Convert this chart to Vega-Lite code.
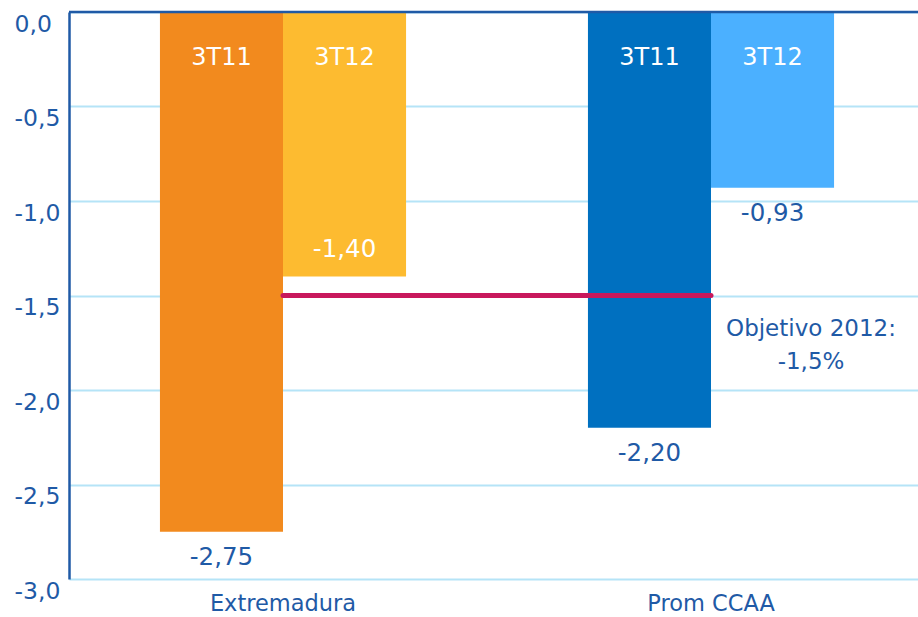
{
  "$schema": "https://vega.github.io/schema/vega-lite/v6.json",
  "width": 856,
  "height": 567,
  "autosize": "none",
  "padding": {"left": 69, "top": 12, "right": 0, "bottom": 38},
  "config": {
    "view": {"stroke": null},
    "font": "DejaVu Sans",
    "text": {"font": "DejaVu Sans"}
  },
  "datasets": {
    "bars": [
      {"region": "Extremadura", "periodo": "3T11", "valor": -2.75, "etiqueta": "-2,75"},
      {"region": "Extremadura", "periodo": "3T12", "valor": -1.40, "etiqueta": "-1,40"},
      {"region": "Prom CCAA", "periodo": "3T11", "valor": -2.20, "etiqueta": "-2,20"},
      {"region": "Prom CCAA", "periodo": "3T12", "valor": -0.93, "etiqueta": "-0,93"}
    ],
    "objetivo": [
      {"region": "Extremadura", "valor": -1.5},
      {"region": "Prom CCAA", "valor": -1.5}
    ],
    "nota": [
      {"region": "Prom CCAA", "valor": -1.5, "texto": "Objetivo 2012:\n-1,5%"}
    ],
    "cero": [{"valor": 0}]
  },
  "encoding": {
    "x": {
      "field": "region",
      "type": "nominal",
      "sort": ["Extremadura", "Prom CCAA"],
      "scale": {"paddingInner": 0.425, "paddingOuter": 0.2125},
      "axis": {
        "title": null,
        "domain": false,
        "ticks": false,
        "grid": false,
        "labelAngle": 0,
        "labelFont": "DejaVu Sans",
        "labelFontSize": 22.5,
        "labelColor": "#1F5AA6",
        "labelPadding": 13,
        "labelBaseline": "top"
      }
    },
    "y": {
      "field": "valor",
      "type": "quantitative",
      "scale": {"domain": [-3, 0], "nice": false, "zero": true},
      "axis": {
        "title": null,
        "values": [-3, -2.5, -2, -1.5, -1, -0.5, 0],
        "labelExpr": "(datum.value < 0 ? '-' : '') + replace(format(abs(datum.value), '.1f'), '.', ',')",
        "domain": true,
        "domainColor": "#1F5AA6",
        "domainWidth": 2.5,
        "ticks": false,
        "grid": true,
        "gridColor": "#B5E4F7",
        "gridWidth": 2,
        "labelFont": "DejaVu Sans",
        "labelFontSize": 23.5,
        "labelColor": "#1F5AA6",
        "labelAlign": "left",
        "labelPadding": 55,
        "labelBaseline": "middle",
        "labelOffset": 12
      }
    }
  },
  "layer": [
    {
      "data": {"name": "bars"},
      "transform": [{"calculate": "datum.region + ' ' + datum.periodo", "as": "serie"}],
      "mark": {"type": "bar"},
      "encoding": {
        "xOffset": {"field": "periodo", "type": "nominal", "scale": {"paddingInner": 0, "paddingOuter": 0}},
        "color": {
          "field": "serie",
          "type": "nominal",
          "scale": {
            "domain": ["Extremadura 3T11", "Extremadura 3T12", "Prom CCAA 3T11", "Prom CCAA 3T12"],
            "range": ["#F28A1E", "#FDBB30", "#0070C0", "#4BB0FF"]
          },
          "legend": null
        }
      }
    },
    {
      "data": {"name": "bars"},
      "mark": {"type": "text", "color": "white", "fontSize": 24, "baseline": "middle", "dy": 46},
      "encoding": {
        "xOffset": {"field": "periodo", "type": "nominal"},
        "y": {"datum": 0},
        "text": {"field": "periodo"}
      }
    },
    {
      "data": {"name": "bars"},
      "transform": [{"filter": "!(datum.region == 'Extremadura' && datum.periodo == '3T12')"}],
      "mark": {"type": "text", "color": "#1F5AA6", "fontSize": 24.5, "baseline": "middle", "dy": 26},
      "encoding": {
        "xOffset": {"field": "periodo", "type": "nominal"},
        "text": {"field": "etiqueta"}
      }
    },
    {
      "data": {"name": "bars"},
      "transform": [{"filter": "datum.region == 'Extremadura' && datum.periodo == '3T12'"}],
      "mark": {"type": "text", "color": "white", "fontSize": 24.5, "baseline": "middle", "dy": -27},
      "encoding": {
        "xOffset": {"field": "periodo", "type": "nominal"},
        "text": {"field": "etiqueta"}
      }
    },
    {
      "data": {"name": "objetivo"},
      "mark": {"type": "line", "color": "#C8185C", "strokeWidth": 5, "strokeCap": "round"},
      "encoding": {}
    },
    {
      "data": {"name": "nota"},
      "mark": {"type": "text", "color": "#1F5AA6", "fontSize": 23, "baseline": "middle", "align": "center", "lineBreak": "\n", "lineHeight": 33, "dx": 100, "dy": 33},
      "encoding": {
        "text": {"field": "texto"}
      }
    },
    {
      "data": {"name": "cero"},
      "mark": {"type": "rule", "color": "#1F5AA6", "strokeWidth": 2.5},
      "encoding": {
        "x": {"value": 0},
        "x2": {"value": 856},
        "y": {"field": "valor", "type": "quantitative"}
      }
    }
  ]
}
